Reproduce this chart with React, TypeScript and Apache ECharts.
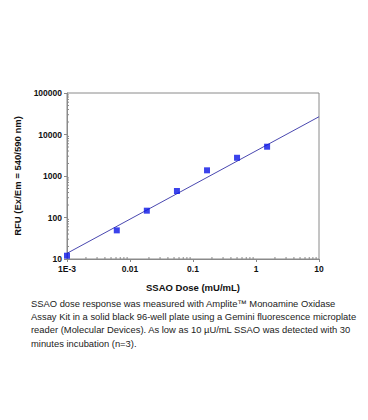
import React, { useEffect, useRef } from "react";
import * as echarts from "echarts";

const doses = [0.001, 0.00617, 0.0185, 0.0556, 0.167, 0.5, 1.5];
const rfu = [12, 49, 146, 435, 1370, 2750, 5080];
const fitX = [0.001, 10];
const fitY = [13.7, 26800];
const xTickLabels: Record<string, string> = { "-3": "1E-3", "-2": "0.01", "-1": "0.1", "0": "1", "1": "10" };
const yTickLabels: Record<string, string> = { "1": "10", "2": "100", "3": "1000", "4": "10000", "5": "100000" };
const xMinorTicks = [
  0.002, 0.003, 0.004, 0.005, 0.006, 0.007, 0.008, 0.009,
  0.02, 0.03, 0.04, 0.05, 0.06, 0.07, 0.08, 0.09,
  0.2, 0.3, 0.4, 0.5, 0.6, 0.7, 0.8, 0.9,
  2, 3, 4, 5, 6, 7, 8, 9,
];
const yMinorTicks = [
  20, 30, 40, 50, 60, 70, 80, 90,
  200, 300, 400, 500, 600, 700, 800, 900,
  2000, 3000, 4000, 5000, 6000, 7000, 8000, 9000,
  20000, 30000, 40000, 50000, 60000, 70000, 80000, 90000,
];
const captionLines = [
  "SSAO dose response was measured with Amplite\u2122 Monoamine Oxidase",
  "Assay Kit in a solid black 96-well plate using a Gemini fluorescence microplate",
  "reader (Molecular Devices). As low as 10 \u00b5U/mL SSAO was detected with 30",
  "minutes incubation (n=3).",
];

const FONT = "'Liberation Sans', Arial, sans-serif";
const AXIS_GRAY = "#8a8a8a";

export default function App() {
  const ref = useRef<HTMLDivElement>(null);
  useEffect(() => {
    if (!ref.current) return;
    const chart = echarts.init(ref.current, undefined, { renderer: "svg" });
    const labelKey = (v: number) => String(Math.round(Math.log10(v)));
    chart.setOption({
      animation: false,
      backgroundColor: "#ffffff",
      grid: {
        left: 67,
        right: 49,
        top: 93,
        bottom: 161,
        show: true,
        borderColor: AXIS_GRAY,
        borderWidth: 1,
      },
      xAxis: {
        type: "log",
        logBase: 10,
        min: 0.001,
        max: 10,
        name: "SSAO Dose (mU/mL)",
        nameLocation: "middle",
        nameGap: 23,
        nameTextStyle: { fontFamily: FONT, fontWeight: "bold", fontSize: 9.5, color: "#111" },
        axisLine: { lineStyle: { color: AXIS_GRAY } },
        axisTick: { show: true, length: 3, lineStyle: { color: AXIS_GRAY } },
        splitLine: { show: false },
        axisLabel: {
          fontFamily: FONT,
          fontWeight: "bold",
          fontSize: 8.5,
          color: "#111",
          margin: 5,
          formatter: (v: number) => xTickLabels[labelKey(v)] ?? "",
        },
      },
      yAxis: {
        type: "log",
        logBase: 10,
        min: 10,
        max: 100000,
        name: "RFU (Ex/Em = 540/590 nm)",
        nameLocation: "middle",
        nameGap: 43,
        nameTextStyle: { fontFamily: FONT, fontWeight: "bold", fontSize: 9.5, color: "#111" },
        axisLine: { show: true, lineStyle: { color: AXIS_GRAY } },
        axisTick: { show: true, length: 3, lineStyle: { color: AXIS_GRAY } },
        splitLine: { show: false },
        axisLabel: {
          fontFamily: FONT,
          fontWeight: "bold",
          fontSize: 8.5,
          color: "#111",
          margin: 5,
          formatter: (v: number) => yTickLabels[labelKey(v)] ?? "",
        },
      },
      series: [
        {
          type: "line",
          data: fitX.map((x, i) => [x, fitY[i]]),
          showSymbol: false,
          symbol: "none",
          lineStyle: { color: "#4a48b0", width: 1 },
          silent: true,
          z: 2,
        },
        {
          type: "scatter",
          data: doses.map((x, i) => [x, rfu[i]]),
          symbol: "rect",
          symbolSize: 6,
          itemStyle: { color: "#0a14e6" },
          z: 3,
        },
        {
          type: "custom",
          silent: true,
          clip: false,
          data: xMinorTicks.map((v) => [v, 10]),
          renderItem: (params: any, api: any) => {
            const p = api.coord([api.value(0), api.value(1)]);
            return {
              type: "line",
              shape: { x1: p[0], y1: p[1], x2: p[0], y2: p[1] - 2 },
              style: { stroke: AXIS_GRAY, lineWidth: 1 },
            };
          },
        },
        {
          type: "custom",
          silent: true,
          clip: false,
          data: yMinorTicks.map((v) => [0.001, v]),
          renderItem: (params: any, api: any) => {
            const p = api.coord([api.value(0), api.value(1)]);
            return {
              type: "line",
              shape: { x1: p[0], y1: p[1], x2: p[0] + 2, y2: p[1] },
              style: { stroke: AXIS_GRAY, lineWidth: 1 },
            };
          },
        },
      ],
      graphic: captionLines.map((line, i) => ({
        type: "text",
        left: 31,
        top: 299 + i * 12.8 + (i === 3 ? 2 : 0),
        style: {
          text: line,
          fontFamily: FONT,
          fontSize: 9.4,
          fill: "#222",
        },
      })),
    });
    return () => chart.dispose();
  }, []);
  return <div ref={ref} style={{ width: 368, height: 420, margin: -8 }} />;
}
